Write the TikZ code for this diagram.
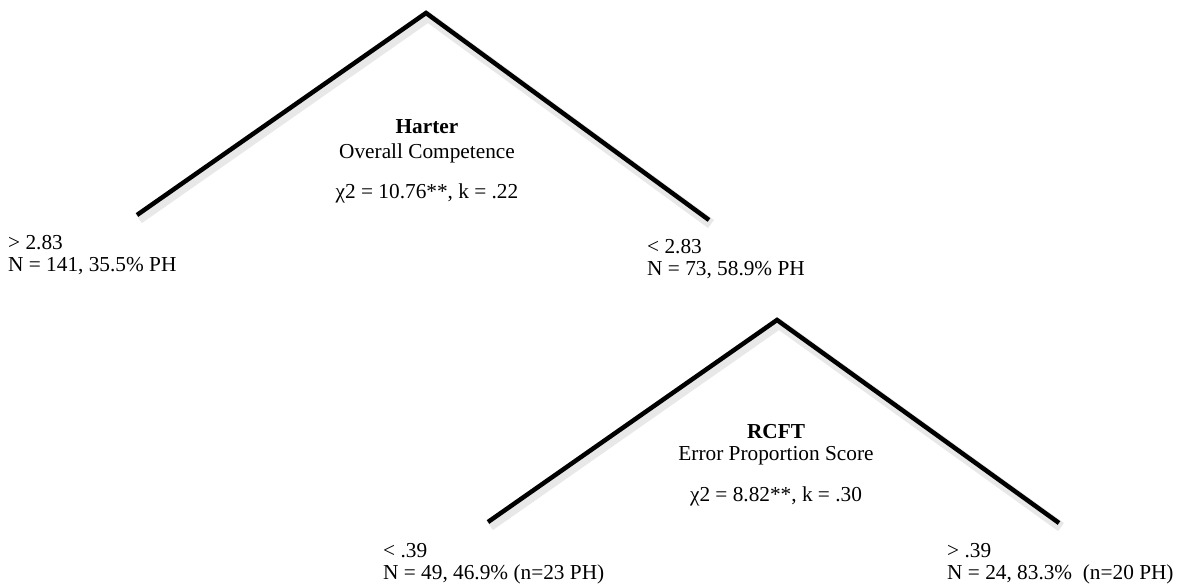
\documentclass[tikz,border=0pt]{standalone}
\usepackage{fontspec}
\setmainfont{Liberation Serif}
\begin{document}
\begin{tikzpicture}[x=1pt, y=1pt,
  every node/.style={font=\fontsize{21.3}{22}\selectfont, inner sep=0pt},
  branch/.style={line width=4.5pt},
  soft/.style={line width=10pt, black, opacity=0.09},
  leaf/.style={align=left, anchor=base west},
  split/.style={align=center, anchor=base}]
  \useasboundingbox (0,0) rectangle (1180,587);

  % first split
  \coordinate (top1) at (426,574);
  \coordinate (left1) at (137,372);
  \coordinate (right1) at (709,367);
  \draw[soft] ([shift={(2,-4)}]left1) -- ([shift={(2,-4)}]top1) -- ([shift={(2,-4)}]right1);
  \draw[branch] (left1) -- (top1) -- (right1);
  \node[split] (harter) at (427,388) {\textbf{Harter}\\[3pt]Overall Competence\\[18pt]χ2 = 10.76**, k = .22};
  \node[leaf] (hi1) at (8,315) {> 2.83\\N = 141, 35.5\% PH};
  \node[leaf] (lo1) at (647,311) {< 2.83\\N = 73, 58.9\% PH};

  % second split
  \coordinate (top2) at (777,267);
  \coordinate (left2) at (488,65);
  \coordinate (right2) at (1059,64);
  \draw[soft] ([shift={(2,-4)}]left2) -- ([shift={(2,-4)}]top2) -- ([shift={(2,-4)}]right2);
  \draw[branch] (left2) -- (top2) -- (right2);
  \node[split] (rcft) at (776,86) {\textbf{RCFT}\\Error Proportion Score\\[19pt]χ2 = 8.82**, k = .30};
  \node[leaf] (lo2) at (383,8) {< .39\\N = 49, 46.9\% (n=23 PH)};
  \node[leaf] (hi2) at (947,8) {> .39\\N = 24, 83.3\%\ \ (n=20 PH)};
\end{tikzpicture}
\end{document}
